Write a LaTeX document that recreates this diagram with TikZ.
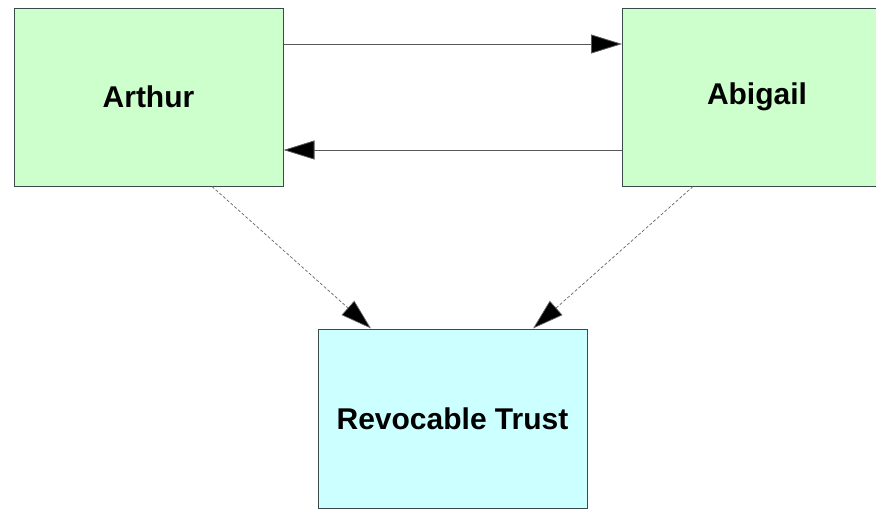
\documentclass[tikz,border=0pt]{standalone}
\usepackage{fontspec}
\setmainfont{Liberation Sans}
\usetikzlibrary{arrows.meta}

\definecolor{personfill}{HTML}{CCFFCC}
\definecolor{trustfill}{HTML}{CCFFFF}
\definecolor{boxline}{HTML}{3A4A4A}

\tikzset{
  entity/.style={draw=boxline, line width=1pt, minimum width=269pt,
    minimum height=178pt, inner sep=0pt,
    font=\fontsize{30}{36}\selectfont\bfseries},
  flow/.style={draw=black!65, line width=0.8pt,
    -{Triangle[length=31pt,width=19pt,fill=black]}},
  link/.style={draw=black!60, line width=0.7pt, dash pattern=on 3pt off 2pt,
    -{Triangle[length=31pt,width=19pt,fill=black]}}
}

\begin{document}
\begin{tikzpicture}[x=1pt, y=-1pt]
  \clip (0,0) rectangle (876,509);
  \fill[white] (0,0) rectangle (876,509);

  \node[entity, fill=personfill] (arthur) at (148.5,97) {Arthur};
  \node[entity, fill=personfill] (abigail) at (757,97) {Abigail};
  \node[entity, fill=trustfill, minimum height=179pt] (trust) at (452.5,418.5) {Revocable Trust};

  % transfers between the two people
  \draw[flow] ([yshift=53pt]arthur.east) -- ([yshift=53pt]abigail.west);
  \draw[flow] ([yshift=-53pt]abigail.west) -- ([yshift=-53pt]arthur.east);

  % contributions to the trust
  \draw[link] ([xshift=63.5pt]arthur.south) -- ([xshift=-81.5pt]trust.north);
  \draw[link] ([xshift=-64pt]abigail.south) -- ([xshift=80.5pt]trust.north);
\end{tikzpicture}
\end{document}
